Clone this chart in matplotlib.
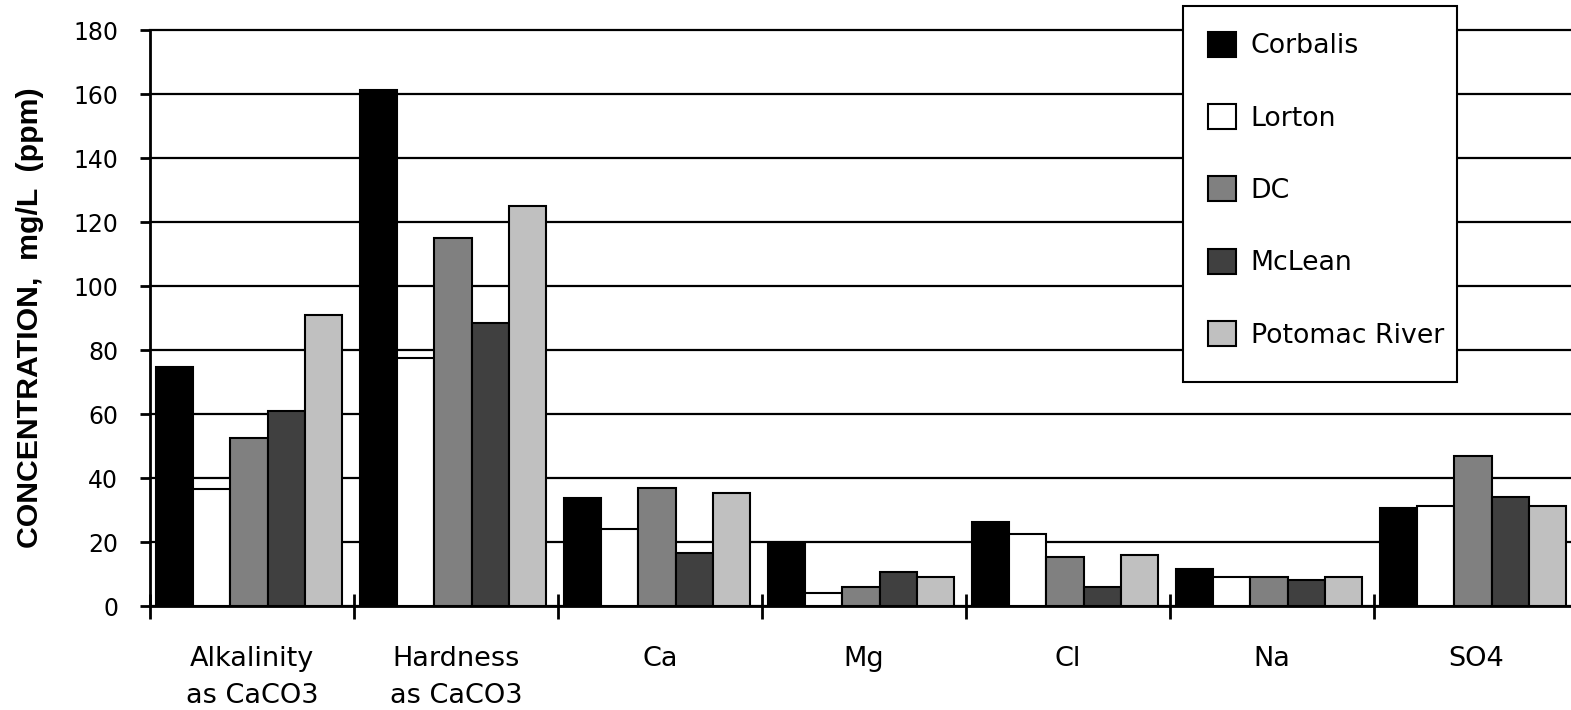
import numpy as np
import matplotlib.pyplot as plt
from matplotlib.patches import Patch, Rectangle


# ==================================
# DATA
# ==================================

categories = ["Alkalinity\nas CaCO3", "Hardness\nas CaCO3",
              "Ca", "Mg", "Cl", "Na", "SO4"]

sites = ["Corbalis", "Lorton", "DC", "McLean", "Potomac River"]

corbalis = [74.6, 161.2, 33.7, 19.8, 26.1, 11.7, 30.5]
lorton = [36.5, 77.6, 24.2, 4.2, 22.6, 9.1, 31.3]
dc = [52.5, 115.1, 36.8, 5.8, 15.3, 9.1, 47.0]
mclean = [60.9, 88.5, 16.6, 10.7, 5.8, 8.2, 34.2]
potomac = [90.9, 125.0, 35.3, 9.2, 16.0, 9.1, 31.2]

series = [corbalis, lorton, dc, mclean, potomac]

colors = ["#000000", "#ffffff", "#808080", "#404040", "#c0c0c0"]

y_ticks = list(range(0, 181, 20))


# ==================================
# FIGURE
# ==================================

W, H = 1571, 710
fig = plt.figure(figsize=(W / 100, H / 100), dpi=100)

# axis runs a bit past the right edge of the figure
ax = fig.add_axes([150 / W, 104 / H, 1428 / W, 576 / H])

x = np.arange(len(categories))
bar_w = 0.182

for j, (vals, col) in enumerate(zip(series, colors)):
    ax.bar(x + 0.03 + j * bar_w,
           vals,
           width=bar_w,
           align="edge",
           color=col,
           edgecolor="black",
           linewidth=1.5,
           zorder=2)

ax.set_xlim(0, len(categories))
ax.set_ylim(0, 180)

ax.set_yticks(y_ticks)
ax.yaxis.grid(True, color="black", linewidth=1.6)
ax.set_axisbelow(True)
for line in ax.get_ygridlines():
    line.set_clip_on(False)

for side in ["top", "right"]:
    ax.spines[side].set_visible(False)
for side in ["left", "bottom"]:
    ax.spines[side].set_linewidth(2)

# category names centred, tick marks on the boundaries
ax.set_xticks(x + 0.5)
ax.set_xticklabels(categories,
                   fontsize=19.5,
                   linespacing=1.55)
ax.tick_params(axis="x", which="major", length=0, pad=29)

ax.set_xticks(np.arange(0, len(categories) + 1), minor=True)
ax.tick_params(axis="x", which="minor",
               direction="inout", length=18, width=2)

ax.tick_params(axis="y", direction="out",
               length=7, width=2,
               labelsize=17, pad=16)

fig.text(30 / W, 1 - 318 / H,
         "CONCENTRATION,  mg/L  (ppm)",
         rotation=90,
         ha="center", va="center",
         fontsize=21.8,
         fontweight="bold",
         family="Liberation Sans")


# ==================================
# LEGEND
# ==================================

# white box behind the legend entries
fig.patches.append(
    Rectangle((1183 / W, 1 - 382 / H),
              274 / W, 376 / H,
              transform=fig.transFigure,
              facecolor="white",
              edgecolor="black",
              linewidth=1.5,
              zorder=3)
)

handles = [Patch(facecolor=c, edgecolor="black", linewidth=1.5)
           for c in colors]

leg = fig.legend(handles, sites,
                 loc="upper left",
                 bbox_to_anchor=(1185 / W, 1 - 9 / H),
                 borderaxespad=0,
                 fontsize=19.3,
                 handlelength=1.05,
                 handleheight=1.05,
                 handletextpad=0.55,
                 labelspacing=1.67,
                 borderpad=0.85,
                 frameon=False)
leg.set_zorder(4)


# ==================================
# SAVE
# ==================================

fig.savefig("out.png", dpi=100)
